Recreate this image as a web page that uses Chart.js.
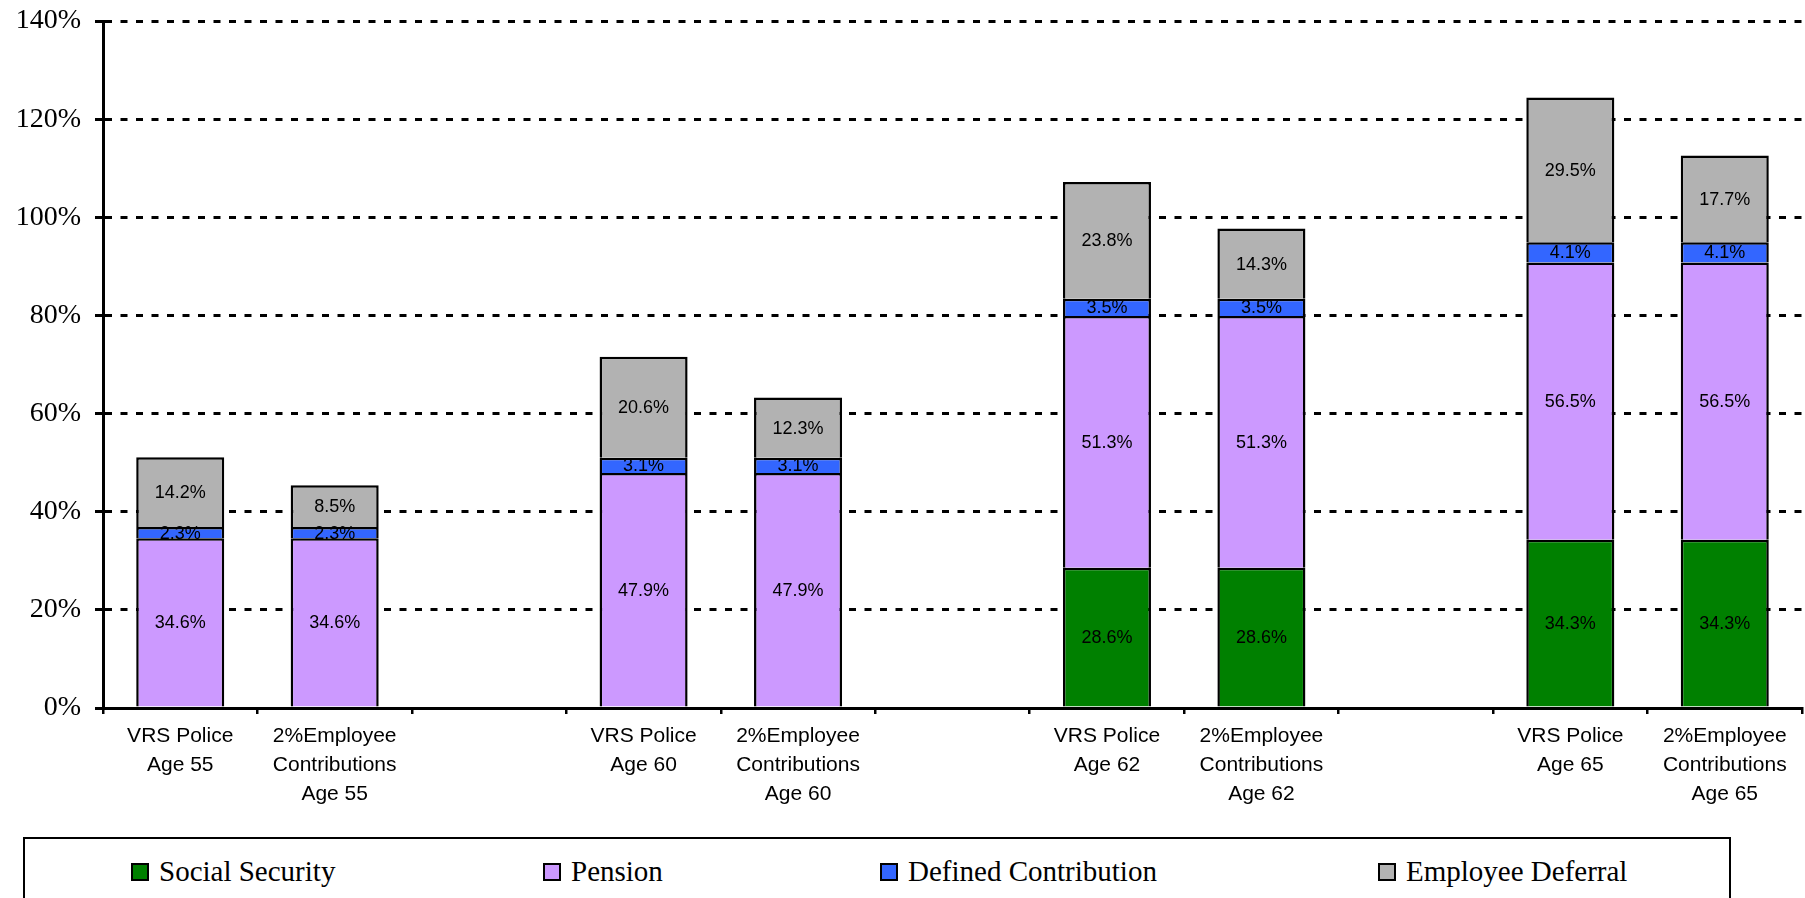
<!DOCTYPE html>
<html>
<head>
<meta charset="utf-8">
<script src="https://cdn.jsdelivr.net/npm/chart.js@4/dist/chart.umd.min.js"></script>
<style>
  html, body { margin: 0; padding: 0; background: #fff; }
  #wrap { position: relative; width: 1805px; height: 898px; overflow: hidden; }
  #c { position: absolute; left: 0; top: 0; }
  #legend { position: absolute; left: 23px; top: 837px; width: 1708px; height: 80px;
            border: 2px solid #000; box-sizing: border-box; background: #fff; }
  .item { position: absolute; top: 16px; display: flex; align-items: center;
          font-family: "Liberation Serif", "Times New Roman", serif; font-size: 29px; color: #000; white-space: nowrap; }
  .sw { width: 14px; height: 14px; border: 2px solid #000; margin-right: 10px; }
</style>
</head>
<body>
<div id="wrap">
  <canvas id="c" width="1805" height="898"></canvas>
  <div id="legend"></div>
</div>
<script>
const categories = [
  ["VRS Police", "Age 55"], ["2%Employee", "Contributions", "Age 55"], "",
  ["VRS Police", "Age 60"], ["2%Employee", "Contributions", "Age 60"], "",
  ["VRS Police", "Age 62"], ["2%Employee", "Contributions", "Age 62"], "",
  ["VRS Police", "Age 65"], ["2%Employee", "Contributions", "Age 65"]
];
const seriesNames = ["Social Security", "Pension", "Defined Contribution", "Employee Deferral"];
const socialSecurity      = [0, 0, null, 0, 0, null, 28.6, 28.6, null, 34.3, 34.3];
const pension             = [34.6, 34.6, null, 47.9, 47.9, null, 51.3, 51.3, null, 56.5, 56.5];
const definedContribution = [2.3, 2.3, null, 3.1, 3.1, null, 3.5, 3.5, null, 4.1, 4.1];
const employeeDeferral    = [14.2, 8.5, null, 20.6, 12.3, null, 23.8, 14.3, null, 29.5, 17.7];
const yTickValues = [0, 20, 40, 60, 80, 100, 120, 140];
const seriesColors = ["#008000", "#CC99FF", "#3366FF", "#B2B2B2"];

const seriesData = [socialSecurity, pension, definedContribution, employeeDeferral];

const labelPlugin = {
  id: 'segLabels',
  afterDatasetsDraw(chart) {
    const ctx = chart.ctx;
    ctx.save();
    ctx.font = '18px "Liberation Sans", Arial, sans-serif';
    ctx.fillStyle = '#000';
    ctx.textAlign = 'center';
    ctx.textBaseline = 'middle';
    chart.data.datasets.forEach((ds, di) => {
      const meta = chart.getDatasetMeta(di);
      meta.data.forEach((el, i) => {
        const v = ds.data[i];
        if (v == null || v === 0) return;
        const y = (el.y + el.base) / 2;
        ctx.fillText(v.toFixed(1) + '%', el.x, y + 1);
      });
    });
    ctx.restore();
  }
};

const chart = new Chart(document.getElementById('c'), {
  type: 'bar',
  data: {
    labels: categories,
    datasets: seriesData.map((d, i) => ({
      label: seriesNames[i],
      data: d,
      backgroundColor: seriesColors[i],
      borderColor: '#000',
      borderWidth: c => (c.raw ? 2.5 : 0),
      borderSkipped: 'start',
      barPercentage: 1,
      categoryPercentage: 0.57
    }))
  },
  options: {
    responsive: false,
    animation: false,
    layout: { padding: { left: 0, right: 3, top: 21, bottom: 0 } },
    plugins: { legend: { display: false }, tooltip: { enabled: false } },
    scales: {
      x: {
        stacked: true,
        offset: true,
        afterFit(scale) { scale.height = 190; scale.paddingLeft = 0; scale.paddingRight = 0; },
        grid: { display: true, drawOnChartArea: false, offset: true, color: '#000', lineWidth: 2.5, tickLength: 6 },
        border: { display: true, color: '#000', width: 3, z: 1 },
        ticks: {
          autoSkip: false, maxRotation: 0, minRotation: 0, padding: 8, color: '#000',
          font: { family: '"Liberation Sans", Arial, sans-serif', size: 21, lineHeight: 1.38 }
        }
      },
      y: {
        stacked: true,
        min: 0, max: 140,
        afterFit(scale) { scale.width = 103; scale.paddingTop = 0; scale.paddingBottom = 0; },
        afterBuildTicks(scale) { scale.ticks = yTickValues.map(v => ({ value: v })); },
        grid: { color: '#000', lineWidth: 3, tickLength: 8 },
        border: { display: true, color: '#000', width: 3, dash: [7, 8.5], z: 1 },
        ticks: {
          padding: 14, color: '#000',
          font: { family: '"Liberation Serif", "Times New Roman", serif', size: 28 },
          callback: v => v + '%'
        }
      }
    }
  },
  plugins: [labelPlugin]
});

// legend built from the series names
const legendLefts = [106, 518, 855, 1353];
const legend = document.getElementById('legend');
seriesNames.forEach((name, i) => {
  const it = document.createElement('div');
  it.className = 'item';
  it.style.left = legendLefts[i] + 'px';
  const sw = document.createElement('div');
  sw.className = 'sw';
  sw.style.background = seriesColors[i];
  const t = document.createElement('span');
  t.textContent = name;
  it.appendChild(sw); it.appendChild(t);
  legend.appendChild(it);
});
</script>
</body>
</html>
